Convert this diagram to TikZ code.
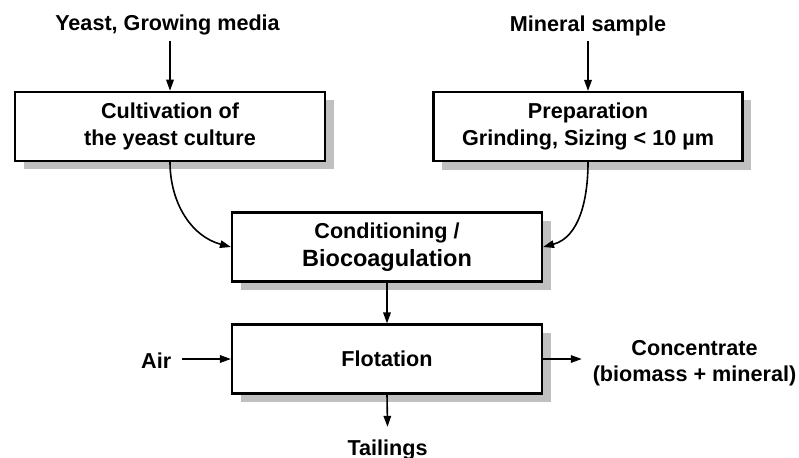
\documentclass[tikz,border=0pt]{standalone}
\usepackage{fontspec}
\setmainfont{Liberation Sans}
\usetikzlibrary{arrows.meta,shadows}
\definecolor{shadowgray}{RGB}{192,192,192}
\begin{document}
\begin{tikzpicture}[x=1pt,y=-1pt,
  every node/.style={font=\fontsize{21.6}{26.5}\selectfont\bfseries},
  procbox/.style={draw, fill=white, line width=2.1pt, minimum width=310pt,
    minimum height=69pt, align=center, inner sep=0pt,
    drop shadow={shadow xshift=8.5pt, shadow yshift=-8.5pt, fill=shadowgray, opacity=1}},
  lbl/.style={inner sep=0pt, align=center},
  arr/.style={line width=1.6pt, -{Triangle[length=11pt,width=7.5pt]}}]
\useasboundingbox (0,0) rectangle (799,457);

% process boxes
\node[procbox] (cult) at (170,126.3) {Cultivation of\\the yeast culture};
\node[procbox, minimum width=309pt] (prep) at (588,126.5) {Preparation\\Grinding, Sizing < 10 µm};
\node[procbox] (cond) at (387,247) {Conditioning /\\[1.5pt]{\fontsize{23.5}{28}\selectfont Biocoagulation}};
\node[procbox] (flot) at (387,359) {Flotation};

% labels
\node[lbl, anchor=base, outer sep=5pt] (yeast) at (167.5,31) {Yeast, Growing media};
\node[lbl, anchor=base, outer sep=5pt] (mineral) at (588,32) {Mineral sample};
\node[lbl, anchor=base, outer sep=11pt] (air) at (156.2,368) {Air};
\node[lbl, outer sep=11pt] (conc) at (694.5,363) {Concentrate\\(biomass + mineral)};
\node[lbl, anchor=base, outer sep=13pt] (tail) at (387.5,455.5) {Tailings};

% connectors
\draw[arr] (yeast.south -| cult.north) -- (cult.north);
\draw[arr] (mineral.south -| prep.north) -- (prep.north);
\draw[arr] (cult.south) to[out=-90,in=165] (cond.west);
\draw[arr] (prep.south) to[out=-90,in=15] (cond.east);
\draw[arr] (cond.south) -- (flot.north);
\draw[arr] (air.east |- flot.west) -- (flot.west);
\draw[arr] (flot.east) -- (flot.east -| conc.west);
\draw[arr] (flot.south) -- (tail.north);
\end{tikzpicture}
\end{document}
